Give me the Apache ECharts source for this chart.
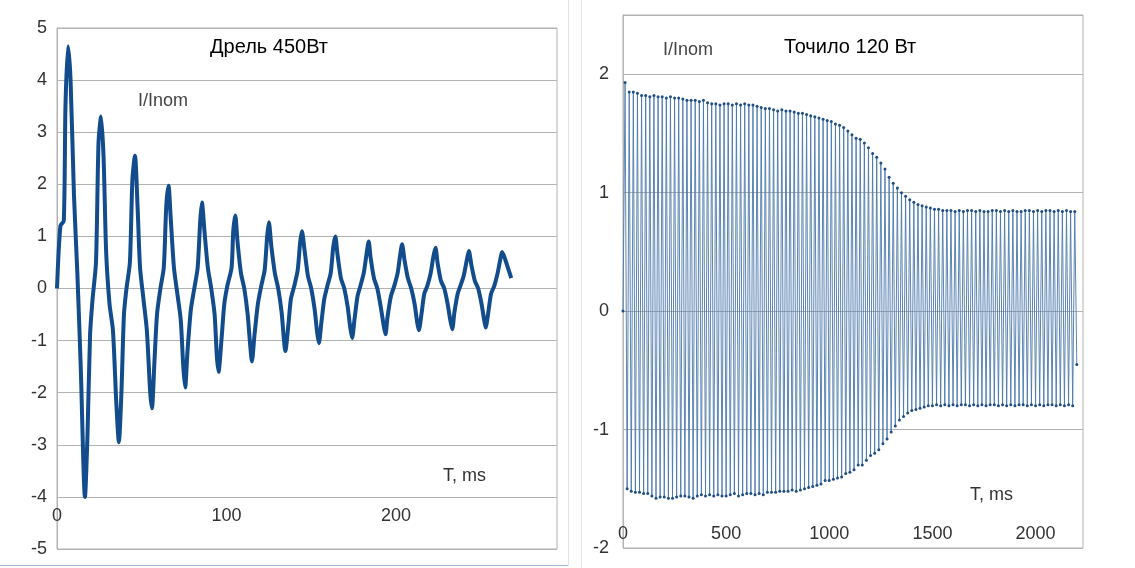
<!DOCTYPE html>
<html>
<head>
<meta charset="utf-8">
<script src="https://cdn.jsdelivr.net/npm/echarts@6/dist/echarts.min.js"></script>
<style>
  html, body { margin: 0; padding: 0; background: #fff; }
  #chart { width: 1135px; height: 568px; }
</style>
</head>
<body>
<div id="chart"></div>
<script>
// Дрель 450Вт — time (ms) and current (I/Inom)
var drillT = [0,2,4,5,6.5,8,10,12,14,16.5,18,19.5,
  21,23,24.5,26,27.5,29,31,33,35,36.5,38,39.5,
  41,43,44.5,46,47.5,49,51,53,55,56,57.5,59,
  61,63,64.5,65.8,67,69,71,73,74.5,75.6,77,79,
  81,83,84.5,85.5,87,89,91,93,94.3,95.3,97,98.7,
  100.5,103,104,105.2,106.5,108.5,110.5,112.5,114,115,116.5,118.5,
  120.5,122.5,124,125,126.5,128.5,130.5,132.5,133.8,134.7,136.5,138,
  140,142,143.5,144.5,146,148,150,152,153.5,154.5,156,157.7,
  159.5,161.5,163,164.2,165.5,167.5,169.5,171.5,173,174.1,175.5,177.3,
  179,181,182.8,183.9,185,187,189,191,192.7,193.8,195,197,
  199,201,202.5,203.6,205,207,209,211,212.5,213.5,215,216.7,
  218.5,220.5,222,223.3,224.5,226.5,228.5,230.5,232,233.2,234.5,236.4,
  238,240,241.8,243,244.5,246.5,248.5,250.5,252,252.9,254.5,256.1,
  258,260,261.5,262.6,264,266,268];
var drillI = [0,1.2,1.3,3.5,4.65,4.0,1.8,0.3,-1.5,-4.0,-2.8,-0.9,
  -0.2,0.5,2.8,3.3,2.5,0.7,-0.3,-0.8,-2.2,-2.95,-2.0,-0.5,
  0,0.5,2.1,2.55,1.6,0.4,-0.2,-0.8,-2.0,-2.3,-1.4,-0.5,
  0,0.4,1.6,1.97,1.4,0.4,-0.1,-0.6,-1.5,-1.9,-1.2,-0.4,
  0,0.4,1.3,1.65,1.1,0.4,0,-0.5,-1.3,-1.6,-1.0,-0.3,
  0.05,0.4,1.1,1.4,0.9,0.3,0,-0.5,-1.1,-1.4,-0.9,-0.3,
  0.05,0.35,1.0,1.27,0.8,0.3,0,-0.45,-0.95,-1.2,-0.7,-0.2,
  0.05,0.35,0.9,1.1,0.75,0.25,0,-0.4,-0.85,-1.05,-0.65,-0.2,
  0.05,0.3,0.8,1.0,0.65,0.2,0,-0.35,-0.75,-0.95,-0.6,-0.15,
  0.05,0.3,0.7,0.9,0.6,0.2,0,-0.35,-0.7,-0.88,-0.55,-0.15,
  0.05,0.3,0.65,0.85,0.55,0.2,0,-0.3,-0.65,-0.8,-0.5,-0.1,
  0.05,0.3,0.6,0.78,0.5,0.15,0,-0.3,-0.6,-0.78,-0.45,-0.1,
  0.05,0.25,0.55,0.72,0.45,0.15,0,-0.3,-0.6,-0.75,-0.45,-0.1,
  0.05,0.3,0.55,0.7,0.6,0.4,0.2];

// Точило 120 Вт — half-period peaks (every 20 ms, tops at 10+20i, bottoms at 20+20i)
var grinderStepMs = 10;
var grinderTop = [1.93,1.85,1.85,1.84,1.82, 1.82,1.81,1.82,1.81,1.81,
  1.80,1.81,1.80,1.80,1.79, 1.78,1.78,1.78,1.77,1.78,
  1.76,1.75,1.75,1.74,1.75, 1.75,1.74,1.75,1.74,1.75,
  1.74,1.74,1.73,1.72,1.71, 1.71,1.70,1.69,1.70,1.69,
  1.69,1.68,1.67,1.67,1.66, 1.65,1.64,1.63,1.62,1.61,
  1.60,1.58,1.57,1.55,1.52, 1.49,1.46,1.45,1.42,1.38,
  1.33,1.30,1.25,1.20,1.13, 1.08,1.04,1.00,0.97,0.94,
  0.92,0.90,0.89,0.88,0.87, 0.86,0.86,0.85,0.85,0.85,
  0.84,0.85,0.84,0.85,0.85, 0.84,0.85,0.84,0.84,0.85,
  0.85,0.84,0.85,0.84,0.85, 0.84,0.84,0.85,0.85,0.84,
  0.85,0.84,0.85,0.85,0.84, 0.85,0.84,0.85,0.84,0.84];
var grinderBottom = [-1.50,-1.52,-1.53,-1.53,-1.54, -1.54,-1.56,-1.58,-1.57,-1.57,
  -1.58,-1.58,-1.57,-1.56,-1.56, -1.57,-1.58,-1.56,-1.55,-1.56,
  -1.55,-1.56,-1.55,-1.56,-1.56, -1.55,-1.54,-1.56,-1.55,-1.54,
  -1.54,-1.55,-1.54,-1.55,-1.53, -1.53,-1.53,-1.52,-1.52,-1.52,
  -1.51,-1.52,-1.51,-1.50,-1.49, -1.48,-1.47,-1.46,-1.43,-1.43,
  -1.42,-1.41,-1.40,-1.37,-1.36, -1.34,-1.30,-1.30,-1.26,-1.22,
  -1.20,-1.17,-1.12,-1.08,-1.02, -0.97,-0.92,-0.89,-0.86,-0.84,
  -0.83,-0.82,-0.81,-0.80,-0.80, -0.79,-0.80,-0.79,-0.80,-0.79,
  -0.80,-0.79,-0.79,-0.80,-0.79, -0.80,-0.79,-0.80,-0.79,-0.79,
  -0.80,-0.79,-0.80,-0.79,-0.80, -0.79,-0.79,-0.80,-0.79,-0.80,
  -0.79,-0.80,-0.79,-0.79,-0.80, -0.79,-0.80,-0.79,-0.80,-0.45];

var drillTicks = [0, 100, 200];
var grinderTicks = [0, 500, 1000, 1500, 2000];

var drillData = drillT.map(function (t, i) { return [t, drillI[i]]; });
var grinderData = [[0, 0]];
for (var i = 0; i < grinderTop.length; i++) {
    grinderData.push([(2 * i + 1) * grinderStepMs, grinderTop[i]]);
    grinderData.push([(2 * i + 2) * grinderStepMs, grinderBottom[i]]);
}

var chart = echarts.init(document.getElementById('chart'));
var gridColor = '#b3b3b3';
var labelStyle = { color: '#333', fontSize: 18, fontFamily: 'Liberation Sans' };

var option = {
    animation: false,
    grid: [
        { left: 57, top: 28, width: 500, height: 521, show: true, borderColor: gridColor, borderWidth: 1 },
        { left: 623, top: 15, width: 460, height: 533, show: true, borderColor: gridColor, borderWidth: 1 }
    ],
    xAxis: [
        {
            gridIndex: 0, type: 'value', min: 0, max: 295, interval: 100,
            axisLine: { show: false }, axisTick: { show: false }, splitLine: { show: false },
            axisLabel: Object.assign({ margin: -42, showMaxLabel: false,
                formatter: function (v) { return drillTicks.indexOf(v) >= 0 ? v : ''; } }, labelStyle)
        },
        {
            gridIndex: 1, type: 'value', min: 0, max: 2230, interval: 500,
            axisLine: { show: false }, axisTick: { show: false }, splitLine: { show: false },
            axisLabel: Object.assign({ margin: -23, showMaxLabel: false,
                formatter: function (v) { return grinderTicks.indexOf(v) >= 0 ? v : ''; } }, labelStyle)
        }
    ],
    yAxis: [
        {
            gridIndex: 0, type: 'value', min: -5, max: 5, interval: 1,
            axisLine: { show: true, lineStyle: { color: gridColor } }, axisTick: { show: false },
            splitLine: { lineStyle: { color: gridColor } },
            axisLabel: Object.assign({ margin: 10 }, labelStyle)
        },
        {
            gridIndex: 1, type: 'value', min: -2, max: 2.5, interval: 1,
            axisLine: { show: true, lineStyle: { color: gridColor } }, axisTick: { show: false },
            splitLine: { lineStyle: { color: gridColor } },
            axisLabel: Object.assign({ margin: 14, showMaxLabel: false,
                formatter: function (v) { return v === 2.5 ? '' : v; } }, labelStyle)
        }
    ],
    series: [
        {
            type: 'line', xAxisIndex: 0, yAxisIndex: 0, data: drillData,
            showSymbol: false, smooth: 0.25, lineStyle: { color: '#124c8c', width: 4 }
        },
        {
            type: 'line', xAxisIndex: 1, yAxisIndex: 1, data: grinderData,
            symbol: 'circle', symbolSize: 3,
            itemStyle: { color: '#1f4e85' },
            lineStyle: { color: '#4a78aa', width: 0.9 }
        }
    ],
    graphic: [
        { type: 'rect', shape: { x: 0, y: 565, width: 569, height: 1 }, style: { fill: '#9fb8d6' } },
        { type: 'rect', shape: { x: 568, y: 0, width: 1, height: 566 }, style: { fill: '#dde6f0' } },
        { type: 'rect', shape: { x: 581, y: 0, width: 1, height: 568 }, style: { fill: '#dde6f0' } },
        { type: 'text', left: 210, top: 37, style: { text: 'Дрель 450Вт', fill: '#000', font: '20px "Liberation Sans"' } },
        { type: 'text', left: 138, top: 92, style: { text: 'I/Inom', fill: '#444', font: '18px "Liberation Sans"' } },
        { type: 'text', left: 443, top: 467, style: { text: 'T, ms', fill: '#333', font: '18px "Liberation Sans"' } },
        { type: 'text', left: 784, top: 37, style: { text: 'Точило 120 Вт', fill: '#000', font: '20px "Liberation Sans"' } },
        { type: 'text', left: 663, top: 41, style: { text: 'I/Inom', fill: '#444', font: '18px "Liberation Sans"' } },
        { type: 'text', left: 970, top: 486, style: { text: 'T, ms', fill: '#333', font: '18px "Liberation Sans"' } }
    ]
};
chart.setOption(option);
</script>
</body>
</html>
